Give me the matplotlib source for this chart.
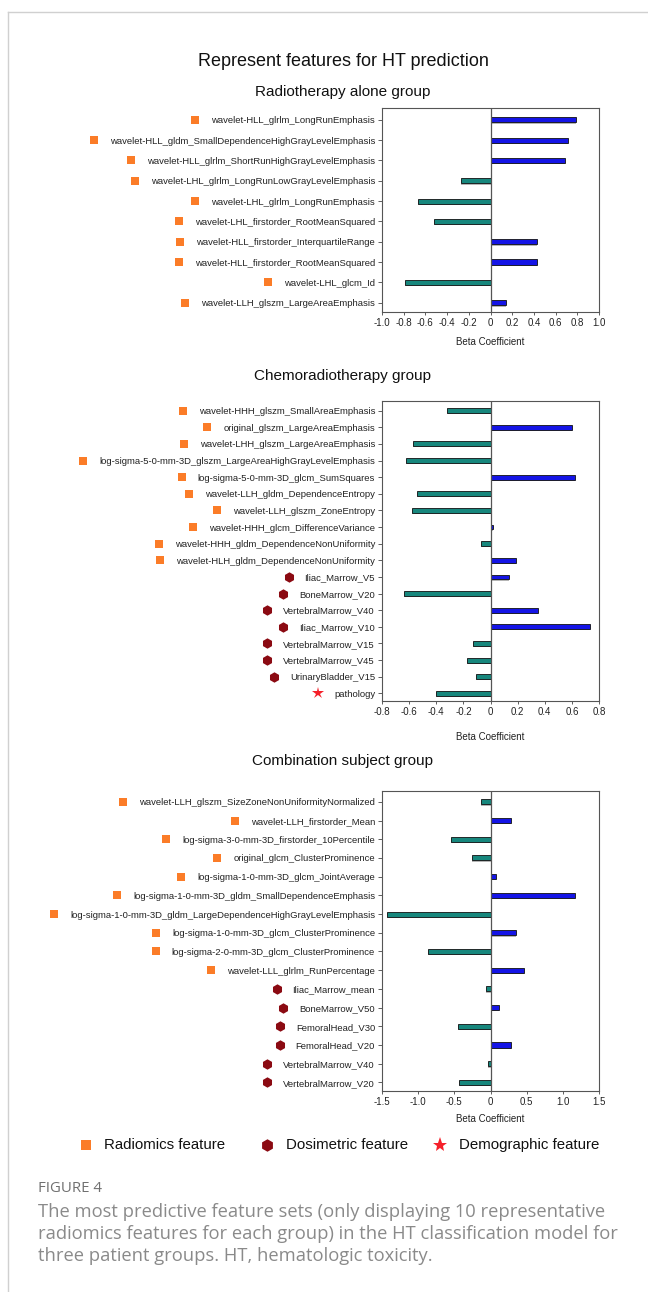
import matplotlib
matplotlib.use("Agg")
import matplotlib.pyplot as plt
from matplotlib.lines import Line2D

plt.rcParams['font.family'] = ['Liberation Sans', 'DejaVu Sans']

# ---- data ----
rt_features = ['wavelet-HLL_glrlm_LongRunEmphasis',
               'wavelet-HLL_gldm_SmallDependenceHighGrayLevelEmphasis',
               'wavelet-HLL_glrlm_ShortRunHighGrayLevelEmphasis',
               'wavelet-LHL_glrlm_LongRunLowGrayLevelEmphasis',
               'wavelet-LHL_glrlm_LongRunEmphasis',
               'wavelet-LHL_firstorder_RootMeanSquared',
               'wavelet-HLL_firstorder_InterquartileRange',
               'wavelet-HLL_firstorder_RootMeanSquared',
               'wavelet-LHL_glcm_Id',
               'wavelet-LLH_glszm_LargeAreaEmphasis']
rt_beta = [0.79, 0.71, 0.69, -0.275, -0.67, -0.525, 0.43, 0.43, -0.79, 0.14]
rt_kind = ['R'] * 10

crt_features = ['wavelet-HHH_glszm_SmallAreaEmphasis',
                'original_glszm_LargeAreaEmphasis',
                'wavelet-LHH_glszm_LargeAreaEmphasis',
                'log-sigma-5-0-mm-3D_glszm_LargeAreaHighGrayLevelEmphasis',
                'log-sigma-5-0-mm-3D_glcm_SumSquares',
                'wavelet-LLH_gldm_DependenceEntropy',
                'wavelet-LLH_glszm_ZoneEntropy',
                'wavelet-HHH_glcm_DifferenceVariance',
                'wavelet-HHH_gldm_DependenceNonUniformity',
                'wavelet-HLH_gldm_DependenceNonUniformity',
                'Iliac_Marrow_V5',
                'BoneMarrow_V20',
                'VertebralMarrow_V40',
                'Iliac_Marrow_V10',
                'VertebralMarrow_V15',
                'VertebralMarrow_V45',
                'UrinaryBladder_V15',
                'pathology']
crt_beta = [-0.32, 0.60, -0.575, -0.62, 0.62, -0.54, -0.58, 0.02, -0.07,
            0.19, 0.14, -0.635, 0.35, 0.73, -0.13, -0.175, -0.11, -0.40]
crt_kind = ['R'] * 10 + ['D'] * 7 + ['G']

comb_features = ['wavelet-LLH_glszm_SizeZoneNonUniformityNormalized',
                 'wavelet-LLH_firstorder_Mean',
                 'log-sigma-3-0-mm-3D_firstorder_10Percentile',
                 'original_glcm_ClusterProminence',
                 'log-sigma-1-0-mm-3D_glcm_JointAverage',
                 'log-sigma-1-0-mm-3D_gldm_SmallDependenceEmphasis',
                 'log-sigma-1-0-mm-3D_gldm_LargeDependenceHighGrayLevelEmphasis',
                 'log-sigma-1-0-mm-3D_glcm_ClusterProminence',
                 'log-sigma-2-0-mm-3D_glcm_ClusterProminence',
                 'wavelet-LLL_glrlm_RunPercentage',
                 'Iliac_Marrow_mean',
                 'BoneMarrow_V50',
                 'FemoralHead_V30',
                 'FemoralHead_V20',
                 'VertebralMarrow_V40',
                 'VertebralMarrow_V20']
comb_beta = [-0.13, 0.28, -0.54, -0.26, 0.08, 1.165, -1.43, 0.35, -0.87,
             0.46, -0.065, 0.12, -0.45, 0.29, -0.03, -0.43]
comb_kind = ['R'] * 10 + ['D'] * 6

rt_ticks = [-1.0, -0.8, -0.6, -0.4, -0.2, 0, 0.2, 0.4, 0.6, 0.8, 1.0]
rt_ticklabels = ['-1.0', '-0.8', '-0.6', '-0.4', '-0.2', '0', '0.2', '0.4', '0.6', '0.8', '1.0']
crt_ticks = [-0.8, -0.6, -0.4, -0.2, 0, 0.2, 0.4, 0.6, 0.8]
crt_ticklabels = ['-0.8', '-0.6', '-0.4', '-0.2', '0', '0.2', '0.4', '0.6', '0.8']
comb_ticks = [-1.5, -1.0, -0.5, 0, 0.5, 1.0, 1.5]
comb_ticklabels = ['-1.5', '-1.0', '-0.5', '0', '0.5', '1.0', '1.5']

subtitles = ['Radiotherapy alone group', 'Chemoradiotherapy group', 'Combination subject group']
legend_names = ['Radiomics feature', 'Dosimetric feature', 'Demographic feature']

# ---- style ----
POS = '#1414e6'
NEG = '#17877d'
markers = {
    'R': dict(marker='s', color='#fb7c28', markersize=5.8, markeredgewidth=0),
    'D': dict(marker='h', color='#8b0a12', markersize=7.5, markeredgewidth=0),
    'G': dict(marker='*', color='#f5202a', markersize=9, markeredgewidth=0),
}

W, H = 648, 1292
fig = plt.figure(figsize=(W / 100, H / 100), dpi=100)


def fx(px):
    return px / W


def fy(py):
    return 1 - py / H


panels = [
    (rt_features, rt_beta, rt_kind, rt_ticks, rt_ticklabels, (-1.0, 1.0), 108, 312, 0.25, 7),
    (crt_features, crt_beta, crt_kind, crt_ticks, crt_ticklabels, (-0.8, 0.8), 401, 701, 0.29, 11),
    (comb_features, comb_beta, comb_kind, comb_ticks, comb_ticklabels, (-1.5, 1.5), 791, 1091, 0.27, 5),
]

axes = []
for feats, beta, kind, ticks, tlabels, xlim, top, bot, bh, lpad in panels:
    ax = fig.add_axes([fx(382), fy(bot), fx(599) - fx(382), fy(top) - fy(bot)])
    n = len(feats)
    ys = list(range(n))
    cols = [POS if b > 0 else NEG for b in beta]
    # grey drop shadow, then bar
    ax.barh([y + 0.07 for y in ys], beta, height=bh, left=0, color='#b5b5b5',
            edgecolor='none', zorder=1)
    ax.barh(ys, beta, height=bh, color=cols, edgecolor='#111111', linewidth=0.6, zorder=2)
    ax.axvline(0, color='#555555', lw=0.9, zorder=3)
    ax.set_xlim(*xlim)
    ax.set_ylim(n - 1 + 0.46, -0.58)
    ax.set_yticks(ys)
    ax.set_yticklabels(feats, fontsize=6.8, color='#222222')
    ax.set_xticks(ticks)
    ax.set_xticklabels(tlabels, fontsize=7, color='#222222')
    ax.tick_params(axis='y', length=3, width=0.6, pad=2, color='#444444')
    ax.tick_params(axis='x', length=2, width=0.6, pad=2, color='#444444')
    ax.set_xlabel('Beta Coefficient', fontsize=7, color='#222222', labelpad=lpad)
    for s in ax.spines.values():
        s.set_color('#555555')
        s.set_linewidth(0.8)
    axes.append((ax, kind))

# titles
fig.text(fx(343), fy(61), 'Represent features for HT prediction', fontsize=13,
         ha='center', va='center', color='#111111')
for t, py in zip(subtitles, [92, 376, 761]):
    fig.text(fx(343), fy(py), t, fontsize=11, ha='center', va='center', color='#111111')

# markers in front of each feature name
fig.canvas.draw()
renderer = fig.canvas.get_renderer()
inv = fig.transFigure.inverted()
for ax, kind in axes:
    for i, (lbl, k) in enumerate(zip(ax.get_yticklabels(), kind)):
        bb = lbl.get_window_extent(renderer)
        ydisp = ax.transData.transform((0, i))[1]
        x, y = inv.transform((bb.x0 - 16, ydisp))
        fig.add_artist(Line2D([x], [y], transform=fig.transFigure, linestyle='none', **markers[k]))

# legend
leg_style = {
    'R': dict(marker='s', color='#fb7c28', markersize=7, markeredgewidth=0),
    'D': dict(marker='h', color='#8b0a12', markersize=9, markeredgewidth=0),
    'G': dict(marker='*', color='#f5202a', markersize=11, markeredgewidth=0),
}
for k, name, mx, tx in zip(['R', 'D', 'G'], legend_names, [86, 267, 440], [104, 286, 459]):
    fig.add_artist(Line2D([fx(mx)], [fy(1145)], transform=fig.transFigure,
                          linestyle='none', **leg_style[k]))
    fig.text(fx(tx), fy(1145), name, fontsize=10.8, ha='left', va='center', color='#111111')

# page frame
fig.add_artist(Line2D([fx(8), 1], [fy(12), fy(12)], transform=fig.transFigure,
                      color='#d0d0d0', lw=1))
fig.add_artist(Line2D([fx(8), fx(8)], [fy(12), 0], transform=fig.transFigure,
                      color='#d0d0d0', lw=1))

# caption
fig.text(fx(38), fy(1189), 'FIGURE 4', fontsize=10.8, family=['Open Sans', 'DejaVu Sans'],
         ha='left', va='center', color='#707070')
caption = ['The most predictive feature sets (only displaying 10 representative',
           'radiomics features for each group) in the HT classification model for',
           'three patient groups. HT, hematologic toxicity.']
for line, py in zip(caption, [1212, 1234, 1256]):
    fig.text(fx(38), fy(py), line, fontsize=13.2, family=['Open Sans', 'DejaVu Sans'],
             ha='left', va='center', color='#8a8a8a')

fig.savefig('out.png', dpi=100)
